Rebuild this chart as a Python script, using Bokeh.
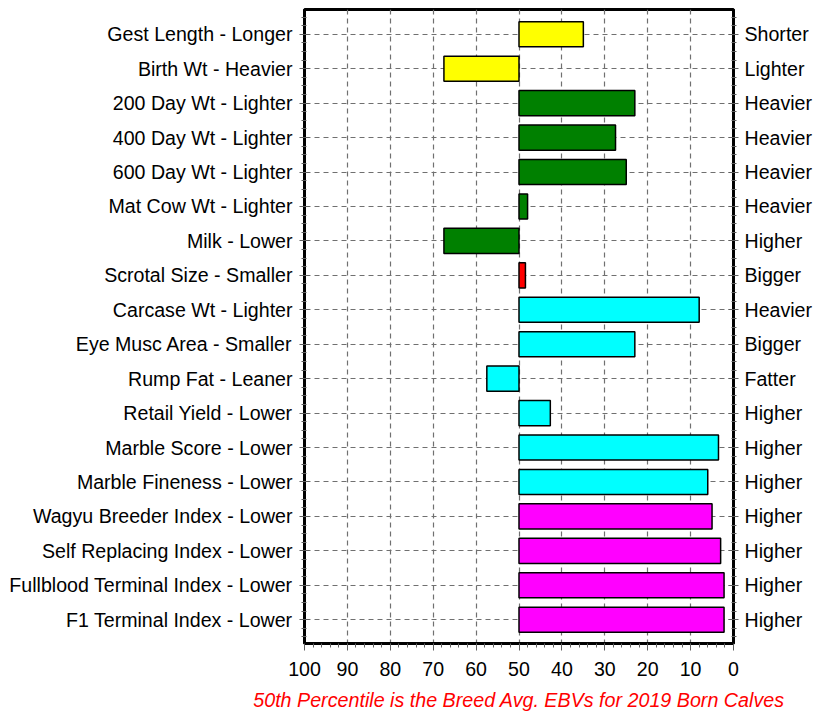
from bokeh.plotting import figure
from bokeh.models import Range1d, LinearAxis, FixedTicker, Title, ColumnDataSource
from bokeh.embed import file_html
from bokeh.resources import INLINE

traits = ["Gest Length - Longer", "Birth Wt - Heavier", "200 Day Wt - Lighter",
          "400 Day Wt - Lighter", "600 Day Wt - Lighter", "Mat Cow Wt - Lighter",
          "Milk - Lower", "Scrotal Size - Smaller", "Carcase Wt - Lighter",
          "Eye Musc Area - Smaller", "Rump Fat - Leaner", "Retail Yield - Lower",
          "Marble Score - Lower", "Marble Fineness - Lower", "Wagyu Breeder Index - Lower",
          "Self Replacing Index - Lower", "Fullblood Terminal Index - Lower",
          "F1 Terminal Index - Lower"]
right_labels = ["Shorter", "Lighter", "Heavier", "Heavier", "Heavier", "Heavier",
                "Higher", "Bigger", "Heavier", "Bigger", "Fatter", "Higher",
                "Higher", "Higher", "Higher", "Higher", "Higher", "Higher"]
percentiles = [35, 67.5, 23, 27.5, 25, 48, 67.5, 48.5, 8, 23, 57.5, 42.7,
               3.5, 6, 5, 3, 2.2, 2.2]
bar_colors = ["#FFFF00", "#FFFF00",
              "#008000", "#008000", "#008000", "#008000", "#008000",
              "#FF0000",
              "#00FFFF", "#00FFFF", "#00FFFF", "#00FFFF", "#00FFFF", "#00FFFF",
              "#FF00FF", "#FF00FF", "#FF00FF", "#FF00FF"]
x_ticks = [100, 90, 80, 70, 60, 50, 40, 30, 20, 10, 0]
breed_avg = 50
footer = "50th Percentile is the Breed Avg. EBVs for 2019 Born Calves"

FONT = "Liberation Sans"
FS = "19.6px"

rows = list(range(len(traits)))
src = ColumnDataSource(dict(y=rows, left=[breed_avg] * len(rows), right=percentiles,
                            color=bar_colors))

p = figure(width=815, height=718, output_backend="svg", toolbar_location=None,
           x_range=Range1d(100, 0), y_range=Range1d(17.69, -0.72),
           min_border_left=304, min_border_right=80, min_border_top=9,
           min_border_bottom=75)

p.hbar(y="y", left="left", right="right", height=0.73, fill_color="color",
       line_color="black", line_width=1.5, source=src)

p.outline_line_color = "black"
p.outline_line_width = 3

minor_y = [i * 0.25 for i in range(-2, 71)]
left_ax = p.yaxis[0]
left_ax.ticker = FixedTicker(ticks=rows, minor_ticks=minor_y)
left_ax.major_label_overrides = {i: t for i, t in enumerate(traits)}

right_ax = LinearAxis(ticker=FixedTicker(ticks=rows, minor_ticks=minor_y),
                      major_label_overrides={i: t for i, t in enumerate(right_labels)})
p.add_layout(right_ax, "right")

for ax in (left_ax, right_ax):
    ax.axis_line_color = "black"
    ax.axis_line_width = 3
    ax.major_tick_in = 5
    ax.major_tick_out = 5
    ax.minor_tick_in = 2
    ax.minor_tick_out = 3
    ax.major_tick_line_color = "#606060"
    ax.minor_tick_line_color = "#606060"
    ax.major_label_text_font = FONT
    ax.major_label_text_font_size = FS
    ax.major_label_text_color = "black"
left_ax.major_label_standoff = 7
right_ax.major_label_standoff = 6

xa = p.xaxis[0]
xa.ticker = FixedTicker(ticks=x_ticks, minor_ticks=list(range(0, 101, 2)))
xa.axis_line_color = "black"
xa.axis_line_width = 3
xa.major_tick_in = 0
xa.major_tick_out = 7
xa.minor_tick_in = 0
xa.minor_tick_out = 4
xa.major_tick_line_color = "#606060"
xa.minor_tick_line_color = "#606060"
xa.major_label_text_font = FONT
xa.major_label_text_font_size = FS
xa.major_label_text_color = "black"
xa.major_label_standoff = 11

p.xgrid.ticker = FixedTicker(ticks=x_ticks)
p.ygrid.ticker = FixedTicker(ticks=rows)
for g in (p.xgrid[0], p.ygrid[0]):
    g.grid_line_color = "#707070"
    g.grid_line_dash = "5 4"
    g.grid_line_width = 1.2

spacer = Title(text=" ", text_font_size="5px", standoff=0)
p.add_layout(spacer, "below")

t = Title(text=footer, align="center", text_color="#FF0000",
          text_font=FONT, text_font_size="19.7px", text_font_style="italic",
          standoff=0)
p.add_layout(t, "below")

open("out.html", "w").write(file_html(p, INLINE))
